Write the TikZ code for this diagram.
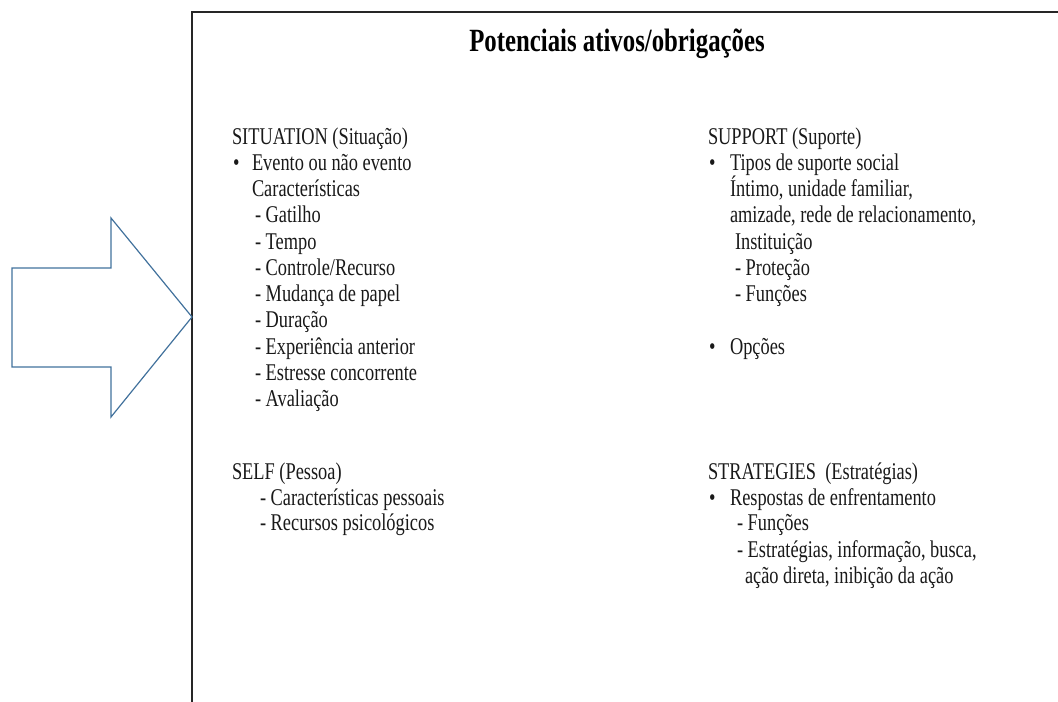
\documentclass[tikz,border=0pt]{standalone}
\usepackage{fontspec}
\setmainfont{Liberation Serif}[FakeStretch=0.765]
\begin{document}
\begin{tikzpicture}[x=0.75pt,y=-0.75pt,
  txt/.style={anchor=base west,inner sep=0pt,outer sep=0pt,text=black!90,font=\fontsize{18}{20}\selectfont},
  ttl/.style={anchor=base,inner sep=0pt,text=black,font=\fontsize{24.3}{26}\selectfont\bfseries},
  frame/.style={draw=black!85,line width=1.1pt},
  bigarrow/.style={draw=arrowblue,line width=0.9pt,line join=miter}]
\definecolor{arrowblue}{HTML}{41719C}
\useasboundingbox (0,0) rectangle (1058,702);
% frame
\draw[frame] (1070,12) -- (192,12) -- (192,715);
% block arrow
\draw[bigarrow] (12,268) -- (111,268) -- (111,218) -- (192,317) -- (111,417) -- (111,367) -- (12,367) -- cycle;
% title
\node[ttl] (title) at (617,52) {Potenciais ativos/obrigações};
% SITUATION
\node[txt] (sit0) at (232,145) {SITUATION (Situação)};
\node[txt] (sitb) at (233,171) {•};
\node[txt] (sit1) at (252,171) {Evento ou não evento};
\node[txt] (sit2) at (252,197) {Características};
\node[txt] (sit3) at (255,223) {- Gatilho};
\node[txt] (sit4) at (255,250) {- Tempo};
\node[txt] (sit5) at (255,276) {- Controle/Recurso};
\node[txt] (sit6) at (255,302) {- Mudança de papel};
\node[txt] (sit7) at (255,328) {- Duração};
\node[txt] (sit8) at (255,355) {- Experiência anterior};
\node[txt] (sit9) at (255,381) {- Estresse concorrente};
\node[txt] (sit10) at (255,407) {- Avaliação};
% SELF
\node[txt] (self0) at (232,480) {SELF (Pessoa)};
\node[txt] (self1) at (260,506) {- Características pessoais};
\node[txt] (self2) at (260,531) {- Recursos psicológicos};
% SUPPORT
\node[txt] (sup0) at (708,145) {SUPPORT (Suporte)};
\node[txt] (supb) at (709,171) {•};
\node[txt] (sup1) at (730,171) {Tipos de suporte social};
\node[txt] (sup2) at (730,197) {Íntimo, unidade familiar,};
\node[txt] (sup3) at (730,223) {amizade, rede de relacionamento,};
\node[txt] (sup4) at (735,250) {Instituição};
\node[txt] (sup5) at (735,276) {- Proteção};
\node[txt] (sup6) at (735,302) {- Funções};
\node[txt] (supb2) at (709,355) {•};
\node[txt] (sup7) at (730,355) {Opções};
% STRATEGIES
\node[txt] (str0) at (708,480) {STRATEGIES\ \ (Estratégias)};
\node[txt] (strb) at (709,506) {•};
\node[txt] (str1) at (730,506) {Respostas de enfrentamento};
\node[txt] (str2) at (737,531) {- Funções};
\node[txt] (str3) at (737,557) {- Estratégias, informação, busca,};
\node[txt] (str4) at (745,583) {ação direta, inibição da ação};
\end{tikzpicture}
\end{document}
